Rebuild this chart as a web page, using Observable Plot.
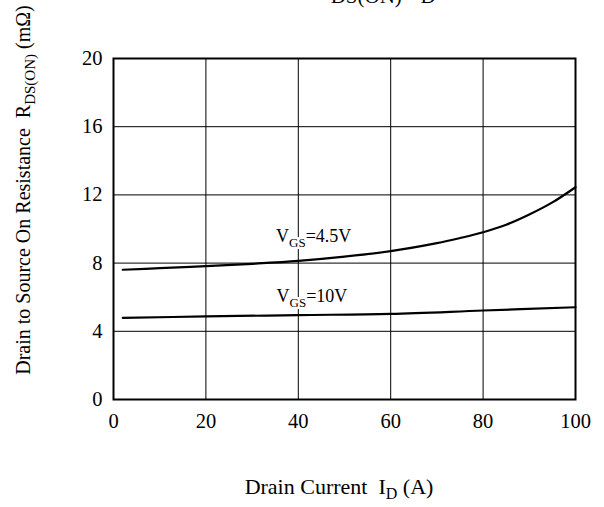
<!DOCTYPE html>
<html>
<head>
<meta charset="utf-8">
<script src="https://cdn.jsdelivr.net/npm/d3@7"></script>
<script src="https://cdn.jsdelivr.net/npm/@observablehq/plot@0.6"></script>
<style>
  html, body { margin: 0; padding: 0; background: #fff; }
  svg text { font-family: "Liberation Serif", "Times New Roman", serif; }
</style>
</head>
<body>
<div id="chart"></div>
<script>
// Drain current (A) and on-resistance (mΩ)
const id45 = [2, 10, 20, 30, 40, 50, 60, 70, 75, 80, 85, 90, 95, 100];
const rds45 = [7.61, 7.70, 7.82, 7.96, 8.13, 8.38, 8.70, 9.17, 9.47, 9.81, 10.25, 10.85, 11.56, 12.45];
const id10 = [2, 20, 40, 60, 80, 100];
const rds10 = [4.79, 4.87, 4.95, 5.02, 5.22, 5.41];

const xTicks = [0, 20, 40, 60, 80, 100];
const yTicks = [0, 4, 8, 12, 16, 20];

// curve annotations: anchor in data units
const labelMain = ["V", "V"];
const labelSub = ["GS", "GS"];
const labelRest = ["=4.5V", "=10V"];
const labelX = [35.3, 35.4];
const labelY = [9.22, 5.71];

const data45 = id45.map((x, i) => ({x, y: rds45[i]}));
const data10 = id10.map((x, i) => ({x, y: rds10[i]}));

const chart = Plot.plot({
  width: 604,
  height: 507,
  marginLeft: 113,
  marginRight: 29,
  marginTop: 58,
  marginBottom: 108,
  style: {fontFamily: "Liberation Serif, serif", fontSize: "20.5px", color: "#000", background: "#fff"},
  x: {domain: [0, 100], ticks: xTicks, tickSize: 0, tickPadding: 14, label: null},
  y: {domain: [0, 20], ticks: yTicks, tickSize: 0, tickPadding: 11, label: null},
  marks: [
    Plot.ruleX(xTicks, {stroke: "#000", strokeWidth: 1}),
    Plot.ruleY(yTicks, {stroke: "#000", strokeWidth: 1}),
    Plot.line(data45, {x: "x", y: "y", curve: "catmull-rom", stroke: "#000", strokeWidth: 2.2}),
    Plot.line(data10, {x: "x", y: "y", curve: "catmull-rom", stroke: "#000", strokeWidth: 2.2}),
    Plot.frame({stroke: "#000", strokeWidth: 2})
  ]
});

document.getElementById("chart").appendChild(chart);

const svg = d3.select(chart);
const sx = chart.scale("x"), sy = chart.scale("y");

// curve labels with subscripts
labelMain.forEach((m, i) => {
  const t = svg.append("text")
    .attr("x", sx.apply(labelX[i]))
    .attr("y", sy.apply(labelY[i]))
    .attr("text-anchor", "start")
    .attr("font-size", 18)
    .attr("fill", "#000")
    .attr("stroke", "#fff")
    .attr("stroke-width", 5)
    .attr("paint-order", "stroke");
  t.append("tspan").text(m);
  t.append("tspan").attr("font-size", 13).attr("dy", 5).text(labelSub[i]);
  t.append("tspan").attr("dy", -5).text(labelRest[i]);
});

// x axis label
const xl = svg.append("text")
  .attr("x", 339).attr("y", 494)
  .attr("text-anchor", "middle")
  .attr("font-size", 22).attr("fill", "#000");
xl.append("tspan").text("Drain Current  I");
xl.append("tspan").attr("font-size", 16).attr("dy", 5).text("D");
xl.append("tspan").attr("dy", -5).text(" (A)");

// y axis label
const yl = svg.append("text")
  .attr("transform", "translate(30,190) rotate(-90)")
  .attr("text-anchor", "middle")
  .attr("font-size", 20).attr("fill", "#000");
yl.append("tspan").text("Drain to Source On Resistance  R");
yl.append("tspan").attr("font-size", 15).attr("dy", 5).text("DS(ON)");
yl.append("tspan").attr("dy", -5).text(" (mΩ)");

// clipped title at the top edge
const tl = svg.append("text")
  .attr("x", 312).attr("y", -4)
  .attr("text-anchor", "start")
  .attr("font-size", 28).attr("fill", "#000");
tl.append("tspan").text("R");
tl.append("tspan").attr("font-size", 21).attr("dy", 7).text("DS(ON)");
tl.append("tspan").attr("dy", -7).text("-I");
tl.append("tspan").attr("font-size", 21).attr("dy", 7).text("D");
</script>
</body>
</html>
